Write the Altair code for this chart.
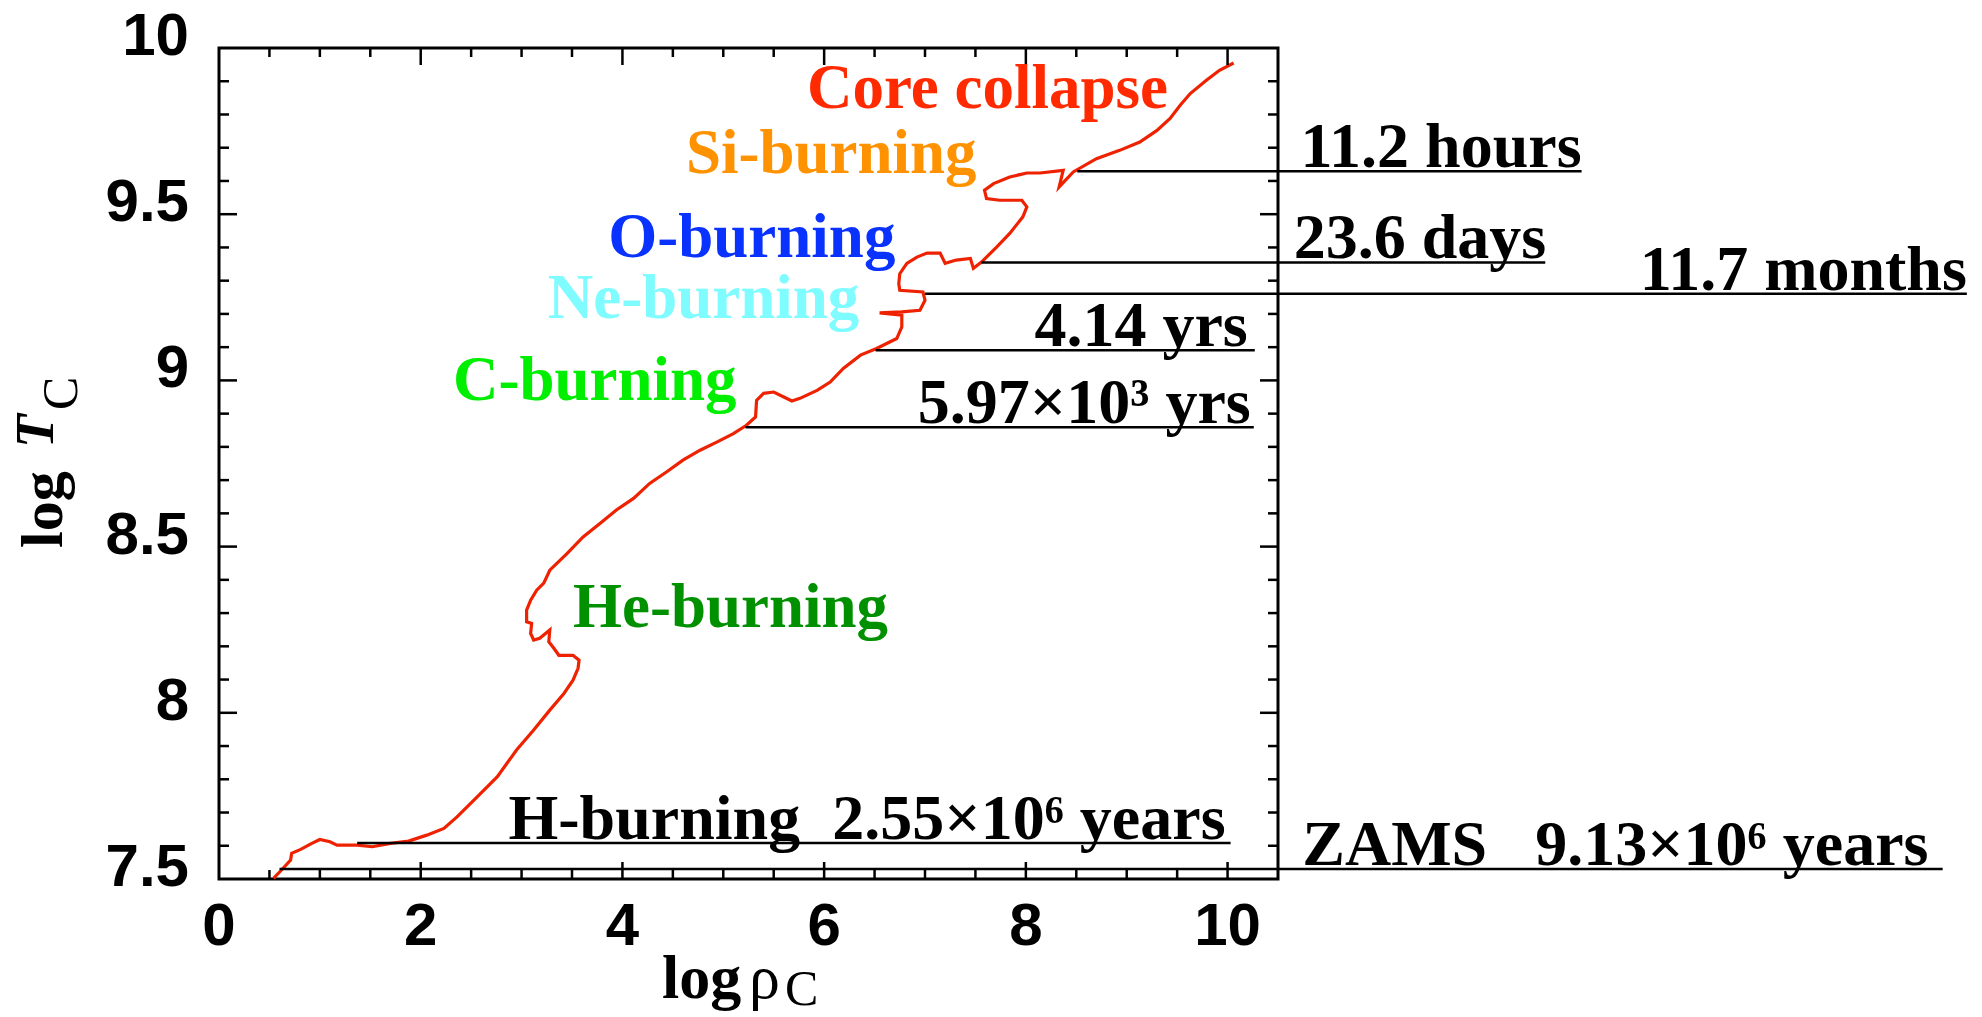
import altair as alt
import pandas as pd

# Central density / temperature track of the stellar core (log rho_c, log T_c)
rho_c = [0.54, 0.62, 0.71, 0.72, 0.81, 0.92, 1.00, 1.10, 1.17, 1.37, 1.52, 1.70, 1.88,
         2.06, 2.23, 2.36, 2.56, 2.76, 2.95, 3.12, 3.28, 3.42, 3.51, 3.56, 3.57, 3.51,
         3.37, 3.32, 3.27, 3.28, 3.18, 3.12, 3.09, 3.10, 3.05, 3.05, 3.09, 3.15, 3.22,
         3.28, 3.45, 3.61, 3.78, 3.94, 4.11, 4.27, 4.44, 4.60, 4.77, 4.94, 5.10, 5.23,
         5.32, 5.33, 5.40, 5.50, 5.60, 5.68, 5.76, 5.93, 6.06, 6.19, 6.36, 6.52, 6.72,
         6.77, 6.77, 6.55, 6.77, 6.95, 7.00, 6.98, 6.75, 6.74, 6.75, 6.82, 6.92, 7.02,
         7.15, 7.20, 7.31, 7.45, 7.48, 7.56, 7.71, 7.84, 7.97, 8.01, 7.96, 7.74, 7.61,
         7.59, 7.68, 7.84, 8.01, 8.14, 8.37, 8.33, 8.47, 8.70, 8.93, 9.13, 9.30, 9.43,
         9.53, 9.63, 9.79, 9.92, 10.06]
t_c = [7.502, 7.527, 7.557, 7.577, 7.589, 7.607, 7.619, 7.612, 7.602, 7.602, 7.597, 7.607,
       7.614, 7.632, 7.652, 7.687, 7.747, 7.808, 7.888, 7.948, 8.008, 8.058, 8.098, 8.134,
       8.158, 8.173, 8.173, 8.194, 8.214, 8.249, 8.224, 8.219, 8.239, 8.269, 8.274, 8.309,
       8.339, 8.369, 8.390, 8.429, 8.479, 8.529, 8.570, 8.610, 8.645, 8.690, 8.725, 8.760,
       8.790, 8.815, 8.840, 8.865, 8.890, 8.940, 8.961, 8.965, 8.950, 8.938, 8.946, 8.970,
       8.995, 9.036, 9.076, 9.096, 9.126, 9.161, 9.196, 9.203, 9.206, 9.211, 9.241, 9.266,
       9.271, 9.291, 9.321, 9.352, 9.371, 9.383, 9.383, 9.352, 9.362, 9.367, 9.337, 9.356,
       9.401, 9.442, 9.492, 9.522, 9.542, 9.542, 9.547, 9.572, 9.592, 9.612, 9.624, 9.624,
       9.632, 9.582, 9.627, 9.667, 9.692, 9.717, 9.752, 9.788, 9.828, 9.863, 9.903, 9.933,
       9.955]

# Start of each phase (marker lines) and the time left until collapse
phase_t = [9.629, 9.355, 9.261, 9.091, 8.859, 7.608, 7.530]
phase_rho_start = [8.51, 7.56, 7.00, 6.51, 5.22, 1.37, 0.60]
phase_rho_end = [13.51, 13.15, 17.33, 10.27, 10.26, 10.03, 17.09]
phase_text = ["11.2 hours", "23.6 days", "11.7 months", "4.14 yrs", "5.97×10³ yrs",
              "H-burning\u00a0\u00a02.55×10⁶ years", "ZAMS\u00a0\u00a0\u00a09.13×10⁶ years"]
phase_text_end = [13.51, 13.16, 17.33, 10.20, 10.23, 9.98, 16.95]

# Burning stage names
stage_names = ["Core collapse", "Si-burning", "O-burning", "Ne-burning", "C-burning", "He-burning"]
stage_colors = ["#ff2a00", "#ff9200", "#0a32ff", "#7ffcff", "#00ee00", "#009000"]
stage_rho = [5.83, 4.63, 3.86, 3.26, 2.32, 3.51]
stage_t = [9.819, 9.623, 9.371, 9.187, 8.940, 8.257]

# Tick labels
x_tick_values = [0, 2, 4, 6, 8, 10]
x_tick_labels = ["0", "2", "4", "6", "8", "10"]
y_tick_values = [7.5, 8.0, 8.5, 9.0, 9.5, 10.0]
y_tick_labels = ["7.5", "8", "8.5", "9", "9.5", "10"]

X_MIN, X_MAX = 0.0, 10.5
Y_MIN, Y_MAX = 7.5, 10.0
W, H = 1059, 831

xs = alt.Scale(domain=[X_MIN, X_MAX], nice=False, zero=False)
ys = alt.Scale(domain=[Y_MIN, Y_MAX], nice=False, zero=False)


def X(field):
    return alt.X(field, scale=xs, axis=None)


def Y(field):
    return alt.Y(field, scale=ys, axis=None)


track = pd.DataFrame({"rho": rho_c, "t": t_c, "i": range(len(rho_c))})
curve = alt.Chart(track).mark_line(color="#ee2200", strokeWidth=3.2).encode(
    x=X("rho:Q"), y=Y("t:Q"), order="i:Q",
)

# Inward-pointing ticks on all four sides of the frame
x_minor_len, x_major_len = 10 / W * (X_MAX - X_MIN), 18 / W * (X_MAX - X_MIN)
y_minor_len, y_major_len = 9 / H * (Y_MAX - Y_MIN), 17 / H * (Y_MAX - Y_MIN)
tick_rows = []
for k in range(1, 25):
    v = round(Y_MIN + 0.1 * k, 2)
    L = x_major_len if abs(v * 2 - round(v * 2)) < 1e-6 else x_minor_len
    tick_rows.append({"x": X_MIN, "x2": X_MIN + L, "y": v, "y2": v})
    tick_rows.append({"x": X_MAX - L, "x2": X_MAX, "y": v, "y2": v})
for k in range(1, 21):
    v = 0.5 * k
    L = y_major_len if k % 4 == 0 else y_minor_len
    tick_rows.append({"x": v, "x2": v, "y": Y_MIN, "y2": Y_MIN + L})
    tick_rows.append({"x": v, "x2": v, "y": Y_MAX - L, "y2": Y_MAX})
ticks = alt.Chart(pd.DataFrame(tick_rows)).mark_rule(color="black", strokeWidth=2.5).encode(
    x=X("x:Q"), x2="x2:Q", y=Y("y:Q"), y2="y2:Q",
)

# Tick labels along the bottom and left edges
xlab_df = pd.DataFrame({"v": x_tick_values, "lab": x_tick_labels, "y0": [Y_MIN] * len(x_tick_values)})
x_labels = alt.Chart(xlab_df).mark_text(
    align="center", baseline="alphabetic", dy=66, font="Liberation Sans",
    fontWeight="bold", fontSize=60, color="black").encode(
    x=X("v:Q"), y=Y("y0:Q"), text="lab:N",
)
ylab_df = pd.DataFrame({"v": y_tick_values, "lab": y_tick_labels, "x0": [X_MIN] * len(y_tick_values)})
y_labels = alt.Chart(ylab_df).mark_text(
    align="right", baseline="alphabetic", dx=-30, dy=7, font="Liberation Sans",
    fontWeight="bold", fontSize=60, color="black").encode(
    x=X("x0:Q"), y=Y("v:Q"), text="lab:N",
)

phases = pd.DataFrame({"t": phase_t, "x0": phase_rho_start, "x1": phase_rho_end,
                       "label": phase_text, "tx": phase_text_end})
phase_lines = alt.Chart(phases).mark_rule(color="black", strokeWidth=2.5).encode(
    x=X("x0:Q"), x2="x1:Q", y=Y("t:Q"),
)
phase_labels = alt.Chart(phases).mark_text(
    align="right", baseline="alphabetic", dy=-4, font="Liberation Serif",
    fontWeight="bold", fontSize=64, color="black").encode(
    x=X("tx:Q"), y=Y("t:Q"), text="label:N",
)

stages = pd.DataFrame({"name": stage_names, "rho": stage_rho, "t": stage_t})
stage_labels = alt.Chart(stages).mark_text(
    align="left", baseline="alphabetic", font="Liberation Serif",
    fontWeight="bold", fontSize=63).encode(
    x=X("rho:Q"), y=Y("t:Q"), text="name:N",
    color=alt.Color("name:N", scale=alt.Scale(domain=stage_names, range=stage_colors), legend=None),
)


def title_piece(text, px, py, size, weight="bold", style="normal", angle=0):
    return alt.Chart(pd.DataFrame({"s": [text]})).mark_text(
        align="left", baseline="alphabetic", font="Liberation Serif", fontSize=size,
        fontWeight=weight, fontStyle=style, angle=angle, color="black").encode(
        x=alt.value(px), y=alt.value(py), text="s:N")


# Axis titles with subscripts, placed relative to the plot area
x_title = [
    title_piece("log", 443, 950, 62),
    title_piece("ρ", 530, 950, 62, weight="normal"),
    title_piece("C", 566, 957, 50, weight="normal"),
]
y_title = [
    title_piece("log", -157, 500, 60, angle=270),
    title_piece("T", -166, 400, 55, style="italic", angle=270),
    title_piece("C", -142, 362, 50, weight="normal", angle=270),
]

chart = alt.layer(
    curve, ticks, x_labels, y_labels, phase_lines, phase_labels, stage_labels, *x_title, *y_title
).properties(
    width=W, height=H,
    padding={"left": 219, "top": 48, "right": 704, "bottom": 138},
    autosize=alt.AutoSizeParams(type="none"),
    background="white",
).configure_view(stroke="black", strokeWidth=3)

chart.save("out.html", embed_options={"renderer": "svg", "actions": False})
